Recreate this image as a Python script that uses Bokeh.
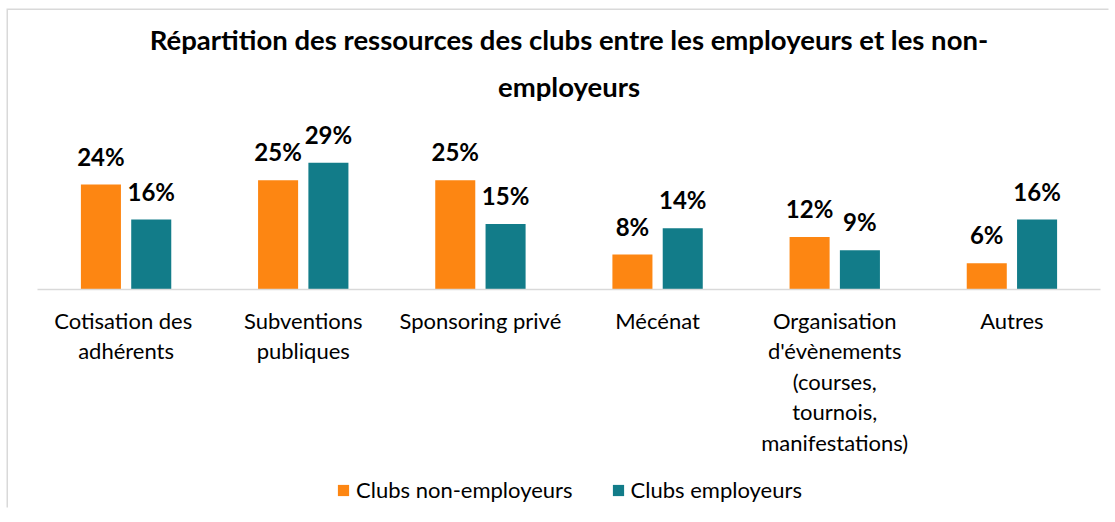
from bokeh.plotting import figure
from bokeh.models import (ColumnDataSource, FactorRange, LabelSet, Legend, LegendItem, Range1d,
                          Title)
from bokeh.layouts import column
from bokeh.core.properties import value
from bokeh.transform import dodge
from bokeh.embed import file_html
from bokeh.resources import INLINE

categories = [
    "Cotisation  des\nadhérents",
    "Subventions\npubliques",
    "Sponsoring privé",
    "Mécénat",
    "Organisation\nd'évènements\n(courses,\ntournois,\nmanifestations)",
    "Autres",
]
non_employeurs = [24, 25, 25, 8, 12, 6]
employeurs = [16, 29, 15, 14, 9, 16]
series_names = ["Clubs non-employeurs", "Clubs employeurs"]
title_lines = ["Répartition des ressources des clubs entre les employeurs et les non-", "employeurs"]

ORANGE = "#FD8612"
TEAL = "#127C89"
FONT = "Lato"

src = ColumnDataSource(dict(
    cats=categories,
    ne=non_employeurs,
    em=employeurs,
    ne_lbl=[f"{v}%" for v in non_employeurs],
    em_lbl=[f"{v}%" for v in employeurs],
))

p = figure(
    x_range=FactorRange(*categories, range_padding=0),
    y_range=Range1d(0, 40),
    frame_width=1063, frame_height=175,
    output_backend="svg", toolbar_location=None,
    min_border_left=29, min_border_right=10, min_border_top=104, min_border_bottom=180,
)
p.title = None

for txt, so in zip(reversed(title_lines), (24, 0)):
    p.add_layout(Title(text=txt, align="center", text_font=FONT, text_font_size="27.5px",
                       text_font_style="bold", text_color="#000000", standoff=so), "above")

r1 = p.vbar(x=dodge("cats", -0.142, range=p.x_range), top="ne", width=0.226, source=src,
            fill_color=ORANGE, line_color=None)
r2 = p.vbar(x=dodge("cats", 0.142, range=p.x_range), top="em", width=0.226, source=src,
            fill_color=TEAL, line_color=None)

for col, ycol, off in (("ne_lbl", "ne", -0.142), ("em_lbl", "em", 0.142)):
    p.add_layout(LabelSet(x=dodge("cats", off, range=p.x_range), y=ycol, text=col, source=src,
                          text_align="center", text_baseline="alphabetic", y_offset=19,
                          text_font=value(FONT), text_font_size=value("24px"),
                          text_font_style=value("bold"), text_color=value("#000000")))

p.yaxis.visible = False
p.xgrid.grid_line_color = None
p.ygrid.grid_line_color = None
p.outline_line_color = None

ax = p.xaxis[0]
ax.axis_line_color = "#D9D9D9"
ax.axis_line_width = 1.5
ax.major_tick_line_color = None
ax.minor_tick_line_color = None
ax.major_label_standoff = 11
ax.major_label_text_font = FONT
ax.major_label_text_font_size = "22px"
ax.major_label_text_color = "#000000"
ax.major_label_text_line_height = 1.13
p.background_fill_color = "white"
p.border_fill_color = "white"

# legend strip below the chart (zero-height proxy bars carry the legend swatches)
pl = figure(width=1102, height=40, x_range=Range1d(0, 1), y_range=Range1d(0, 1),
            x_axis_type=None, y_axis_type=None, output_backend="svg", toolbar_location=None,
            min_border=0)
pl.outline_line_color = None
pl.xgrid.grid_line_color = None
pl.ygrid.grid_line_color = None
proxy = ColumnDataSource(dict(x=[0.5], top=[0.0]))
lr1 = pl.vbar(x="x", top="top", width=0.01, source=proxy, fill_color=ORANGE, line_color=None)
lr2 = pl.vbar(x="x", top="top", width=0.01, source=proxy, fill_color=TEAL, line_color=None)
legend = Legend(
    items=[LegendItem(label=series_names[0], renderers=[lr1]),
           LegendItem(label=series_names[1], renderers=[lr2])],
    orientation="horizontal", location=(299, 6),
    label_text_font=FONT, label_text_font_size="22px", label_text_color="#000000",
    glyph_width=14, glyph_height=14, spacing=38, label_standoff=6,
    border_line_color=None, background_fill_alpha=0, margin=0, padding=0,
)
pl.add_layout(legend, "center")

layout = column(p, pl, spacing=0, margin=(10, 0, 0, 8),
                styles={"box-shadow": "-1.5px -1.5px 0 0 #D9D9D9"})

open("out.html", "w").write(file_html(layout, INLINE))
